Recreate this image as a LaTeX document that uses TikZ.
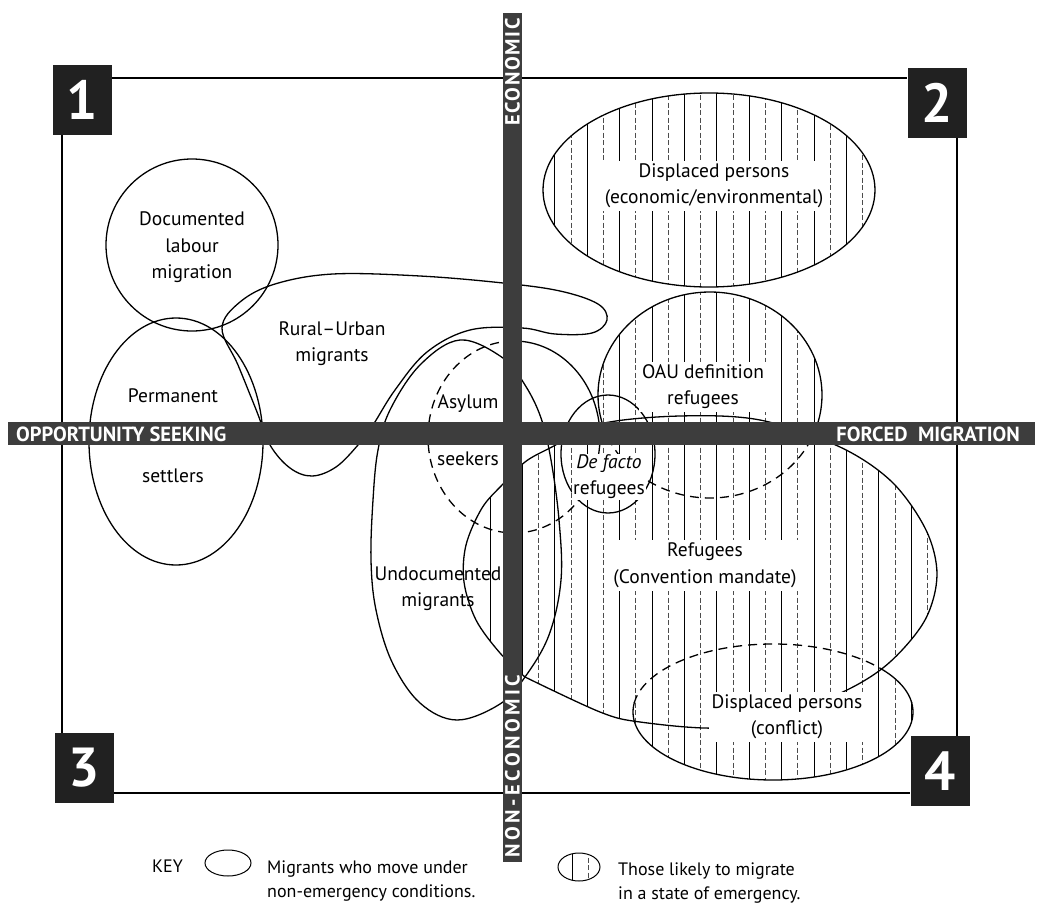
\documentclass[tikz,border=0pt]{standalone}
\usepackage{fontspec}
\setmainfont{PT Sans}
\definecolor{barcol}{gray}{0.24}
\definecolor{boxcol}{gray}{0.13}
\newcommand\hatchfill{%
  \foreach \k in {0,2,...,28}{\draw[hsolid] ({490+16.2*\k},50) -- ({490+16.2*\k},800);}%
  \foreach \k in {1,3,...,27}{\draw[hdash] ({490+16.2*\k},50) -- ({490+16.2*\k},800);}%
}
\begin{document}
\begin{tikzpicture}[x=1pt,y=-1pt,
  outl/.style={line width=1.3pt},
  dsh/.style={line width=1.3pt, dash pattern=on 9pt off 6pt},
  hsolid/.style={line width=0.85pt},
  hdash/.style={line width=0.75pt, black!70, dash pattern=on 5pt off 2.5pt},
  lbl/.style={font=\fontsize{19.5}{26.5}\selectfont, align=center, inner sep=1pt},
  hlbl/.style={lbl, fill=white, inner sep=3pt},
  sgl/.style={font=\fontsize{19.5}{26.5}\selectfont, inner sep=1pt, anchor=base},
  bartxt/.style={font=\bfseries\fontsize{20.5}{20.5}\selectfont, text=white, inner sep=0pt},
  numbox/.style={fill=boxcol, minimum width=59pt, minimum height=70pt, inner sep=0pt, text=white, font=\bfseries\fontsize{55}{55}\selectfont},
  frameline/.style={line width=1.4pt},
  keytxt/.style={font=\fontsize{18}{18}\selectfont, inner sep=0pt, anchor=base west},
  keyell/.style={line width=1pt}
]
\useasboundingbox (0,0) rectangle (1037,905);
\fill[white] (0,0) rectangle (1037,905);

% ---------- hatching ----------
\begin{scope}
  \clip (709,190) ellipse [x radius=166, y radius=97];
  \hatchfill
\end{scope}
\begin{scope}
  \clip (710,395) ellipse [x radius=112, y radius=103];
  \hatchfill
\end{scope}
\begin{scope}
  \clip (773,712) ellipse [x radius=140, y radius=68];
  \hatchfill
\end{scope}
\begin{scope}
  \clip plot[smooth, tension=0.55] coordinates {(525,677) (600,712) (640,722) (717,728) (780,716) (847,690) (890,662) (925,620) (937,575) (926,530) (892,482) (840,447) (760,420) (680,416) (600,424) (550,448) (525,462) (503,484) (482,508) (466,545) (464,582) (476,620) (500,653) (525,677)} -- cycle;
  \hatchfill
\end{scope}

% ---------- outlines ----------
% Documented labour migration
\draw[outl] (192,245) circle [radius=86];
% Permanent settlers
\draw[outl] (176,441.5) ellipse [x radius=87, y radius=123.5];
% Rural-Urban migrants
\draw[outl] plot[smooth cycle, tension=0.6] coordinates {(222,328) (240,302) (275,284) (333,274) (420,276) (503,283) (560,291) (598,304) (607,320) (592,333) (555,334) (522,328) (470,330) (427,352) (395,390) (373,425) (358,445) (336,467) (312,476) (290,468) (270,445) (257,412) (238,365)};
% Undocumented migrants
\draw[outl] plot[smooth cycle, tension=0.6] coordinates {(460,340) (503,358) (525,385) (541,418) (551,460) (559,520) (561,580) (549,635) (525,677) (500,704) (457,720) (420,703) (392,662) (376,610) (371,560) (373,500) (378,450) (390,410) (420,365)};
% Asylum seekers (partly dashed)
\begin{scope}
  \clip (503,300) rectangle (620,482);
  \draw[outl] (514,437) ellipse [x radius=86, y radius=96];
\end{scope}
\begin{scope}
  \clip (400,300) rectangle (503,560);
  \draw[dsh] (514,437) ellipse [x radius=86, y radius=96];
\end{scope}
\begin{scope}
  \clip (503,482) rectangle (620,560);
  \draw[dsh] (514,437) ellipse [x radius=86, y radius=96];
\end{scope}
% Displaced persons (economic/environmental)
\draw[outl] (709,190) ellipse [x radius=166, y radius=97];
% OAU definition refugees (lower part dashed)
\begin{scope}
  \clip (580,280) rectangle (840,433);
  \draw[outl] (710,395) ellipse [x radius=112, y radius=103];
\end{scope}
\begin{scope}
  \clip (580,433) rectangle (840,510);
  \draw[dsh] (710,395) ellipse [x radius=112, y radius=103];
\end{scope}
% De facto refugees
\draw[outl] (608,454) ellipse [x radius=47, y radius=59];
% Refugees (Convention mandate)
\draw[outl] plot[smooth, tension=0.55] coordinates {(525,677) (600,712) (640,722) (717,728) (780,716) (847,690) (890,662) (925,620) (937,575) (926,530) (892,482) (840,447) (760,420) (680,416) (600,424) (550,448) (525,462) (503,484) (482,508) (466,545) (464,582) (476,620) (500,653) (525,677)} -- cycle;
% Displaced persons (conflict) (upper part dashed)
\begin{scope}
  \clip (620,630) rectangle (884,702);
  \draw[dsh] (773,712) ellipse [x radius=140, y radius=68];
\end{scope}
\begin{scope}
  \clip (620,702) rectangle (930,790);
  \draw[outl] (773,712) ellipse [x radius=140, y radius=68];
\end{scope}
\begin{scope}
  \clip (884,630) rectangle (930,702);
  \draw[outl] (773,712) ellipse [x radius=140, y radius=68];
\end{scope}

% ---------- frame and number boxes ----------
\node[numbox] (b1) at (82.5,100) {1};
\node[numbox] (b2) at (937,102.5) {2};
\node[numbox] (b3) at (84,768) {3};
\node[numbox] (b4) at (940,771) {4};
\coordinate (ftl) at (62,78);
\coordinate (fbr) at (957,793);
\draw[frameline] (b1.east |- ftl) -- (b2.west |- ftl);
\draw[frameline] (ftl |- b1.south) -- (ftl |- b3.north);
\draw[frameline] (fbr |- b2.south) -- (fbr |- b4.north);
\draw[frameline] (b3.east |- fbr) -- (b4.west |- fbr);

% ---------- axes ----------
\fill[barcol] (503,13) rectangle (522,862);
\fill[barcol] (8,422) rectangle (1035,445);
\node[bartxt, anchor=base west] (opp) at (16,441) {OPPORTUNITY SEEKING};
\node[bartxt, anchor=base east] (forced) at (1020,441) {FORCED\ \ MIGRATION};
\node[bartxt, rotate=90] (econ) at (512.5,72) {\addfontfeatures{LetterSpace=8}ECONOMIC};
\node[bartxt, rotate=90] (nonecon) at (512.5,766) {\addfontfeatures{LetterSpace=17}NON-ECONOMIC};

% ---------- labels ----------
\node[lbl] (tdoc) at (192,247.3) {Documented\\labour\\migration};
\node[lbl] (trural) at (332,343.8) {Rural--Urban\\migrants};
\node[sgl] (tperm) at (173,402) {Permanent};
\node[sgl] (tsett) at (173,482) {settlers};
\node[sgl] (tasy) at (468,408) {Asylum};
\node[sgl] (tseek) at (468,465) {seekers};
\node[lbl] (tundoc) at (438,588.8) {Undocumented\\migrants};
\node[hlbl] (tdpe) at (714,185.8) {Displaced persons\\(economic/environmental)};
\node[hlbl] (toau) at (703,386.8) {OAU definition\\refugees};
\node[hlbl, inner sep=1pt] (tdef) at (609,476.8) {\textit{De facto}\\refugees};
\node[hlbl] (tconv) at (705,565.3) {Refugees\\(Convention mandate)};
\node[hlbl] (tconf) at (787,716.8) {Displaced persons\\(conflict)};

% ---------- key ----------
\node[keytxt] (key) at (152,872) {KEY};
\draw[keyell] (228,863) ellipse [x radius=23, y radius=13];
\node[keytxt] (k1a) at (267,873) {Migrants who move under};
\node[keytxt] (k1b) at (267,897) {non-emergency conditions.};
\begin{scope}
  \clip (579,867) ellipse [x radius=21, y radius=14];
  \draw[hsolid] (572,850) -- (572,885);
  \draw[hdash] (588,850) -- (588,885);
\end{scope}
\draw[keyell] (579,867) ellipse [x radius=21, y radius=14];
\node[keytxt] (k2a) at (618,875) {Those likely to migrate};
\node[keytxt] (k2b) at (618,899) {in a state of emergency.};
\end{tikzpicture}
\end{document}
